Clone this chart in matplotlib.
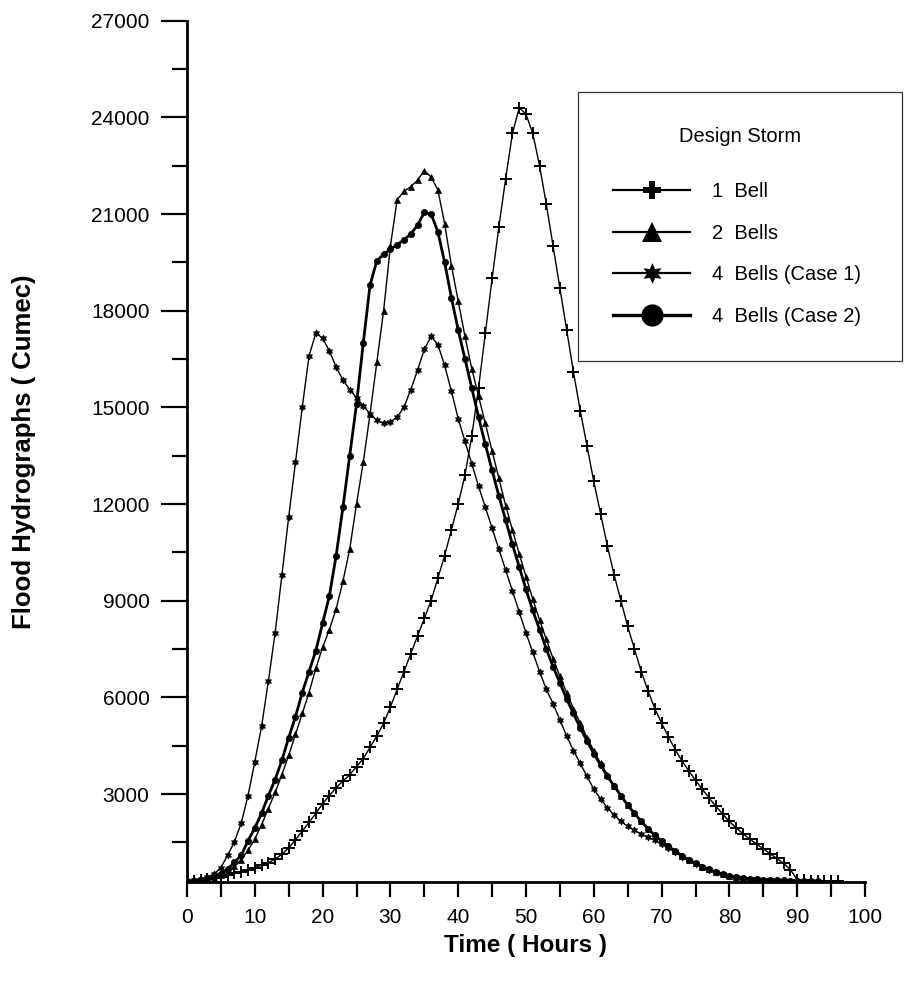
import matplotlib
matplotlib.use("Agg")
import matplotlib.pyplot as plt
from matplotlib.lines import Line2D
import numpy as np

plt.rcParams['font.family'] = ['Liberation Sans', 'DejaVu Sans']

# ---------------- data (hourly values, cumec) ----------------
t_one = list(range(0, 97))
q_one = [300, 310, 330, 360, 400, 440, 490, 540, 590, 650,
         720, 790, 870, 980, 1130, 1330, 1580, 1850, 2120, 2400,
         2700, 2950, 3200, 3400, 3600, 3850, 4100, 4450, 4800, 5200,
         5700, 6250, 6800, 7350, 7900, 8450, 9000, 9700, 10400, 11200,
         12000, 12900, 14100, 15600, 17300, 19000, 20600, 22100, 23500, 24300,
         24100, 23500, 22500, 21300, 20000, 18700, 17400, 16100, 14900, 13800,
         12700, 11700, 10700, 9800, 9000, 8200, 7500, 6800, 6200, 5650,
         5200, 4780, 4380, 4030, 3720, 3430, 3150, 2880, 2620, 2380,
         2150, 1950, 1770, 1600, 1450, 1300, 1150, 1000, 850, 650,
         340, 320, 312, 306, 303, 301, 300]

t_two = list(range(0, 94))
q_two = [300, 310, 320, 350, 400, 480, 600, 760, 960, 1250,
         1600, 2050, 2550, 3050, 3600, 4200, 4850, 5500, 6150, 6900,
         7550, 8100, 8750, 9600, 10600, 12000, 13300, 14800, 16400, 18000,
         20000, 21450, 21700, 21850, 22050, 22350, 22150, 21750, 20700, 19400,
         18300, 17200, 16200, 15350, 14500, 13650, 12800, 11950, 11200, 10450,
         9750, 9050, 8400, 7800, 7200, 6650, 6150, 5650, 5200, 4750,
         4350, 3950, 3600, 3250, 2950, 2650, 2400, 2150, 1920, 1720,
         1540, 1380, 1230, 1090, 960, 850, 750, 660, 580, 515,
         465, 425, 395, 372, 355, 342, 332, 324, 317, 311,
         307, 304, 302, 300]

t_c1 = list(range(0, 93))
q_c1 = [300, 320, 360, 420, 520, 720, 1100, 1520, 2100, 2950,
        4000, 5100, 6500, 8000, 9800, 11600, 13300, 15000, 16600, 17300,
        17150, 16750, 16250, 15850, 15550, 15300, 15050, 14800, 14600, 14500,
        14550, 14700, 15000, 15550, 16150, 16800, 17200, 16950, 16300, 15500,
        14650, 13950, 13250, 12550, 11900, 11250, 10600, 9950, 9300, 8650,
        8000, 7400, 6800, 6250, 5800, 5300, 4800, 4350, 3950, 3550,
        3150, 2850, 2570, 2350, 2150, 2000, 1870, 1760, 1660, 1560,
        1440, 1320, 1190, 1060, 940, 830, 730, 645, 570, 510,
        460, 422, 392, 370, 353, 340, 330, 322, 315, 310,
        305, 302, 300]

t_c2 = list(range(0, 94))
q_c2 = [300, 310, 330, 370, 430, 530, 680, 880, 1100, 1550,
        1950, 2400, 2950, 3450, 4050, 4750, 5400, 6150, 6800, 7450,
        8300, 9150, 10400, 11900, 13500, 15100, 17000, 18800, 19550, 19750,
        19900, 20050, 20200, 20380, 20650, 21050, 21000, 20450, 19500, 18400,
        17400, 16500, 15600, 14700, 13850, 13050, 12250, 11500, 10750, 10050,
        9350, 8700, 8100, 7500, 6950, 6450, 5950, 5500, 5050, 4650,
        4250, 3900, 3550, 3250, 2950, 2650, 2400, 2150, 1920, 1720,
        1540, 1380, 1230, 1090, 960, 850, 750, 660, 580, 515,
        465, 425, 395, 372, 355, 342, 332, 324, 317, 311,
        307, 304, 302, 300]

labels = ["1  Bell", "2  Bells", "4  Bells (Case 1)", "4  Bells (Case 2)"]
x_ticks = list(range(0, 101, 10))
y_ticks = list(range(3000, 27001, 3000))

# ---------------- figure ----------------
W, H = 905, 988
fig = plt.figure(figsize=(W / 100, H / 100), dpi=100)
ax = fig.add_axes([187 / W, 1 - 882 / H, (865 - 187) / W, (882 - 20.7) / H])

star6 = (6, 1, 0)
ax.plot(t_one, q_one, color='black', lw=1.0, marker='+', ms=9, mew=1.4, zorder=3)
ax.plot(t_two, q_two, color='black', lw=1.0, marker='^', ms=5, mew=0.5, zorder=3)
ax.plot(t_c1, q_c1, color='black', lw=1.0, marker=star6, ms=5, mew=0.6, zorder=3)
ax.plot(t_c2, q_c2, color='black', lw=2.0, marker='o', ms=4.5, mew=0.5, zorder=3)

ax.set_xlim(0, 100)
ax.set_ylim(270, 27000)
ax.set_xticks(x_ticks)
ax.set_xticks(list(range(5, 101, 10)), minor=True)
ax.set_yticks(y_ticks)
ax.set_yticks(list(range(1500, 27000, 3000)), minor=True)

for s in ['top', 'right']:
    ax.spines[s].set_visible(False)
for s in ['left', 'bottom']:
    ax.spines[s].set_linewidth(2.0)

ax.tick_params(axis='y', which='major', direction='out', length=19, width=1.6,
               labelsize=15, pad=8)
ax.tick_params(axis='y', which='minor', direction='out', length=11, width=1.6)
ax.tick_params(axis='x', which='both', direction='out', length=11, width=1.6,
               labelsize=15, pad=8)

ax.set_xlabel("Time ( Hours )", fontsize=17.5, fontweight='bold')
ax.xaxis.set_label_coords(0.5, -0.060)
ax.set_ylabel("Flood Hydrographs ( Cumec)", fontsize=18.5, fontweight='bold')
ax.yaxis.set_label_coords(-0.222, 0.5)

handles = [
    Line2D([], [], color='black', lw=1.6, marker='P', ms=13, mew=0),
    Line2D([], [], color='black', lw=1.6, marker='^', ms=15, mew=0),
    Line2D([], [], color='black', lw=1.6, marker=star6, ms=15, mew=0),
    Line2D([], [], color='black', lw=2.4, marker='o', ms=16, mew=0),
]
leg = fig.legend(handles, labels, title="Design Storm",
                 loc='upper left',
                 bbox_to_anchor=(578 / W, 1 - 92 / H, (902 - 578) / W, 0.0),
                 mode='expand', fontsize=14.5, title_fontsize=14.5,
                 frameon=True, fancybox=False, edgecolor='black',
                 handlelength=3.8, handletextpad=1.1, labelspacing=1.12,
                 borderpad=1.75, borderaxespad=0)
leg.get_frame().set_linewidth(0.9)
leg._legend_box.align = "center"
leg._legend_box.sep = 26

fig.savefig("out.png", dpi=100)
